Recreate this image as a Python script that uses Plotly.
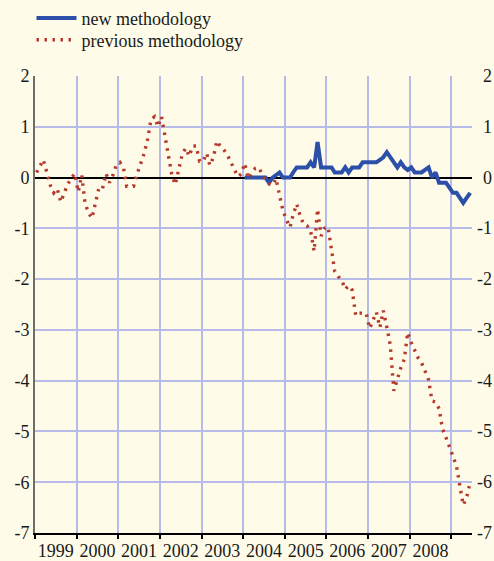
import pandas as pd
import plotly.graph_objects as go

# Monthly series, percent; first observation January 1999
prev_start = "1999-01"
previous_methodology = [
    0.10, 0.25, 0.35, 0.10, -0.15, -0.30, -0.22, -0.48, -0.30, -0.13, -0.02, 0.08,
    -0.28, 0.05, -0.50, -0.70, -0.80, -0.50, -0.20, -0.22, 0.08, -0.10, 0.05, 0.25,
    0.30, 0.20, -0.17, -0.17, -0.17, 0.07, 0.28, 0.47, 0.75, 1.15, 1.20, 1.00,
    1.20, 0.82, 0.44, 0.06, -0.14, 0.15, 0.45, 0.58, 0.42, 0.62, 0.62, 0.32,
    0.32, 0.48, 0.24, 0.40, 0.72, 0.62, 0.55, 0.45, 0.31, 0.18, 0.02, 0.07,
    0.28, -0.02, 0.08, 0.18, 0.20, 0.07, -0.05, -0.12, -0.15, -0.02, -0.35, -0.65,
    -0.83, -0.98, -0.73, -0.52, -0.75, -0.92, -0.95, -1.05, -1.45, -0.62, -1.15, -1.00,
    -0.97, -1.40, -1.85, -1.95, -2.02, -2.20, -2.13, -2.22, -2.72, -2.67, -2.67, -2.67,
    -2.97, -2.82, -2.65, -2.95, -2.62, -2.95, -3.30, -4.20, -3.95, -3.75, -3.58, -3.05,
    -3.25, -3.40, -3.55, -3.65, -3.80, -3.98, -4.40, -4.42, -4.55, -4.95, -5.12, -5.30,
    -5.50, -5.68, -6.05, -6.45, -6.30, -6.00,
]

# New methodology begins January 2004
new_start = "2004-01"
new_methodology = [
    0.0, 0.0, 0.0, 0.0, 0.0, 0.0, 0.0, -0.1, 0.0, 0.05, 0.1, 0.0,
    0.0, 0.0, 0.1, 0.2, 0.2, 0.2, 0.2, 0.3, 0.2, 0.7, 0.2, 0.2,
    0.2, 0.2, 0.1, 0.1, 0.1, 0.2, 0.1, 0.2, 0.2, 0.2, 0.3, 0.3,
    0.3, 0.3, 0.3, 0.35, 0.4, 0.5, 0.4, 0.3, 0.2, 0.3, 0.2, 0.15,
    0.2, 0.1, 0.1, 0.1, 0.15, 0.2, 0.0, 0.1, -0.1, -0.1, -0.1, -0.2,
    -0.3, -0.3, -0.4, -0.5, -0.4, -0.3,
]

series_names = ["new methodology", "previous methodology"]
y_ticks = [-7, -6, -5, -4, -3, -2, -1, 0, 1, 2]
y_tick_text = ["-7", "-6", "-5", "-4", "-3", "-2", "-1", "0", "1", "2"]
x_range = ["1999-01-01", "2009-07-01"]


def monthly_dates(start, n):
    # observations plotted in the middle of each month
    return pd.date_range(start + "-01", periods=n, freq="MS") + pd.Timedelta(days=14)


bg = "#fefce8"
grid = "#b6bbea"
blue = "#2c4fa9"
red = "#b6392e"
ink = "#1a1a1a"
serif = "Liberation Serif, Times New Roman, serif"

fig = go.Figure()
fig.add_trace(go.Scatter(
    x=monthly_dates(new_start, len(new_methodology)), y=new_methodology,
    mode="lines", name=series_names[0], legend="legend",
    line=dict(color=blue, width=4),
))
fig.add_trace(go.Scatter(
    x=monthly_dates(prev_start, len(previous_methodology)), y=previous_methodology,
    mode="lines", name=series_names[1], legend="legend2",
    line=dict(color=red, width=3.4, dash="2.5px,5.5px"),
))

# right-hand tick labels
for v, t in zip(y_ticks, y_tick_text):
    fig.add_annotation(
        x=1, xref="paper", y=v, yref="y", text=t, showarrow=False,
        xanchor="right", xshift=22, font=dict(family=serif, size=18, color=ink),
    )

legend_style = dict(
    x=-0.008, xanchor="left", yanchor="top",
    bgcolor="rgba(0,0,0,0)", font=dict(family=serif, size=18, color=ink),
    itemwidth=40,
)

fig.update_layout(
    width=494, height=561,
    margin=dict(l=35, r=22, t=76, b=28, autoexpand=False),
    paper_bgcolor=bg, plot_bgcolor=bg,
    font=dict(family=serif, size=18, color=ink),
    showlegend=True,
    legend=dict(y=1.167, **legend_style),
    legend2=dict(y=1.119, **legend_style),
    xaxis=dict(
        type="date", range=x_range, tick0="1999-01-01", dtick="M12",
        tickformat="%Y", ticklabelmode="period",
        ticks="outside", ticklen=4, tickwidth=1.5, tickcolor="#000",
        ticklabelstandoff=-3,
        showline=True, linecolor="#000", linewidth=1.5,
        showgrid=True, gridcolor=grid, gridwidth=1.5,
        zeroline=False,
    ),
    yaxis=dict(
        range=[-7, 2], tickvals=y_ticks, ticktext=y_tick_text,
        showline=True, linecolor="#6e6e6e", linewidth=2,
        showgrid=True, gridcolor=grid, gridwidth=1.5,
        zeroline=True, zerolinecolor="#000", zerolinewidth=1.5,
        ticks="",
    ),
    yaxis2=dict(
        overlaying="y", side="right", range=[-7, 2],
        showline=True, linecolor="#000", linewidth=1.5,
        showgrid=False, zeroline=False, showticklabels=False, ticks="",
    ),
)

fig.write_html("out.html")
